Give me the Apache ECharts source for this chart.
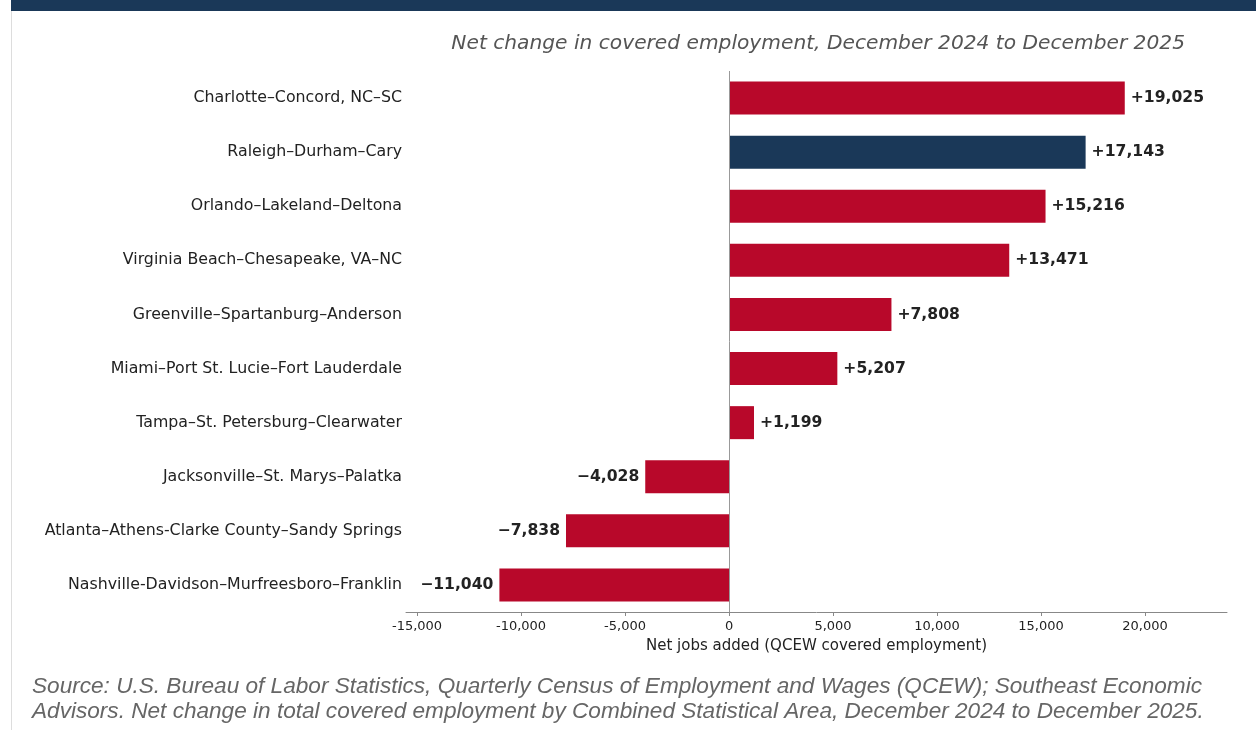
<!DOCTYPE html>
<html>
<head>
<meta charset="utf-8">
<script src="https://cdn.jsdelivr.net/npm/echarts@6/dist/echarts.min.js"></script>
<style>
  html, body { margin: 0; padding: 0; background: #ffffff; }
  #chart { width: 1256px; height: 730px; }
</style>
</head>
<body>
<div id="chart"></div>
<script>
// Combined Statistical Areas, top to bottom
const areas = [
  'Charlotte–Concord, NC–SC',
  'Raleigh–Durham–Cary',
  'Orlando–Lakeland–Deltona',
  'Virginia Beach–Chesapeake, VA–NC',
  'Greenville–Spartanburg–Anderson',
  'Miami–Port St. Lucie–Fort Lauderdale',
  'Tampa–St. Petersburg–Clearwater',
  'Jacksonville–St. Marys–Palatka',
  'Atlanta–Athens-Clarke County–Sandy Springs',
  'Nashville-Davidson–Murfreesboro–Franklin'
];
// Net change in covered employment, Dec 2024 to Dec 2025
const netChange = [19025, 17143, 15216, 13471, 7808, 5207, 1199, -4028, -7838, -11040];
// Area shown in the highlight colour
const highlighted = ['Raleigh–Durham–Cary'];
// x-axis tick values
const xTicks = [-15000, -10000, -5000, 0, 5000, 10000, 15000, 20000];

const RED = '#b8082a';
const NAVY = '#1a3858';

const fmt = v => v.toLocaleString('en-US');
const signed = v => (v >= 0 ? '+' : '\u2212') + fmt(Math.abs(v));

const chart = echarts.init(document.getElementById('chart'), null, { renderer: 'canvas' });

chart.setOption({
  animation: false,
  backgroundColor: '#ffffff',
  grid: { left: 406, right: 29, top: 71, bottom: 118, containLabel: false },
  xAxis: {
    type: 'value',
    min: -15530,
    max: 23940,
    name: 'Net jobs added (QCEW covered employment)',
    nameLocation: 'middle',
    nameGap: 27,
    nameTextStyle: { fontFamily: 'DejaVu Sans', fontSize: 15, color: '#222' },
    axisLine: { show: true, lineStyle: { color: '#888', width: 1 } },
    axisTick: { show: true, length: 4, lineStyle: { color: '#888' }, customValues: xTicks },
    axisLabel: {
      fontFamily: 'DejaVu Sans', fontSize: 13, color: '#222', margin: 8,
      customValues: xTicks, formatter: v => fmt(v)
    },
    splitLine: { show: false }
  },
  yAxis: {
    type: 'category',
    data: areas,
    inverse: true,
    axisLine: { show: false },
    axisTick: { show: false },
    axisLabel: { fontFamily: 'DejaVu Sans', fontSize: 15.8, color: '#222', margin: 4 }
  },
  series: [{
    type: 'bar',
    barWidth: 33,
    data: netChange.map((v, i) => ({
      value: v,
      itemStyle: { color: highlighted.includes(areas[i]) ? NAVY : RED },
      label: {
        show: true,
        position: v >= 0 ? 'right' : 'left',
        distance: 6,
        formatter: () => signed(v),
        fontFamily: 'DejaVu Sans', fontSize: 15.6, fontWeight: 'bold', color: '#222'
      }
    })),
    markLine: {
      silent: true,
      symbol: 'none',
      label: { show: false },
      lineStyle: { color: '#999', width: 1, type: 'solid' },
      data: [{ xAxis: 0 }]
    }
  }],
  graphic: [
    // header band
    { type: 'rect', shape: { x: 11, y: 0, width: 1245, height: 11 }, style: { fill: '#1a3858' } },
    // left frame edge
    { type: 'rect', shape: { x: 11, y: 11, width: 1, height: 719 }, style: { fill: '#dddddd' } },
    {
      type: 'text', right: 71, top: 34,
      style: {
        text: 'Net change in covered employment, December 2024 to December 2025',
        font: 'italic 20.2px "DejaVu Sans"', fill: '#555555'
      }
    },
    {
      type: 'text', left: 32, top: 674,
      style: {
        text: 'Source: U.S. Bureau of Labor Statistics, Quarterly Census of Employment and Wages (QCEW); Southeast Economic\nAdvisors. Net change in total covered employment by Combined Statistical Area, December 2024 to December 2025.',
        font: 'italic 22.6px "Liberation Sans"', fill: '#666666', lineHeight: 25
      }
    }
  ]
});
</script>
</body>
</html>
